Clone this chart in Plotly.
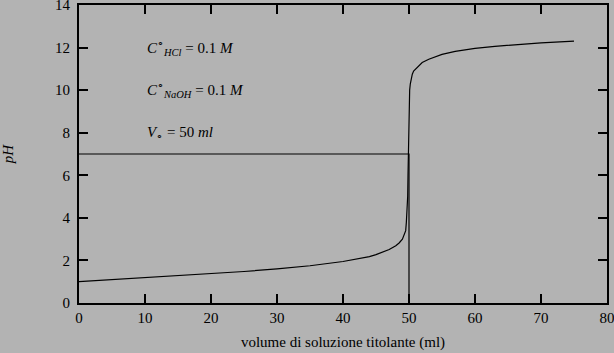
import plotly.graph_objects as go

# titration curve (volume of NaOH in ml, pH)
vol = [0, 5, 10, 15, 20, 25, 30, 35, 40, 42, 44, 45, 46, 47, 48, 48.5, 49, 49.3,
       49.5, 49.6, 49.7, 49.8, 49.85, 49.9, 49.95, 50.0, 50.05, 50.1, 50.2, 50.3,
       50.4, 50.5, 50.7, 51, 51.5, 52, 53, 54, 55, 57, 60, 63, 66, 70, 75]
ph = [1.00, 1.09, 1.18, 1.27, 1.37, 1.48, 1.60, 1.75, 1.95, 2.05, 2.18, 2.27,
      2.38, 2.51, 2.69, 2.82, 3.00, 3.20, 3.40, 3.80, 4.30, 5.00, 6.00, 7.00,
      8.00, 9.00, 9.60, 10.0, 10.3, 10.5, 10.65, 10.75, 10.90, 11.0, 11.15, 11.3,
      11.45, 11.58, 11.68, 11.82, 11.96, 12.06, 12.13, 12.22, 12.30]

# equivalence point guide lines
eq_x = [0, 50, 50]
eq_y = [7, 7, 0]

x_ticks = [0, 10, 20, 30, 40, 50, 60, 70, 80]
y_ticks = [0, 2, 4, 6, 8, 10, 12, 14]

labels = [
    "<i>C</i><sup>∘</sup><sub><i>HCl</i></sub> = 0.1 <i>M</i>",
    "<i>C</i><sup>∘</sup><sub><i>NaOH</i></sub> = 0.1 <i>M</i>",
    "<i>V</i><sub>∘</sub> = 50 <i>ml</i>",
]
label_y = [12, 10, 8]

FONT = "Liberation Serif"
BG = "#b3b3b3"

fig = go.Figure()
fig.add_trace(go.Scatter(x=vol, y=ph, mode="lines",
                         line=dict(color="black", width=1.2), showlegend=False))
fig.add_trace(go.Scatter(x=eq_x, y=eq_y, mode="lines",
                         line=dict(color="black", width=1.2), showlegend=False))

for t, yy in zip(labels, label_y):
    fig.add_annotation(x=10, y=yy, text=t, showarrow=False, xanchor="left",
                       yanchor="middle", font=dict(family=FONT, size=15, color="black"))

axis_common = dict(showline=True, linecolor="black", linewidth=2, mirror="ticks",
                   ticks="inside", ticklen=9, tickwidth=2, tickcolor="black",
                   showgrid=False, zeroline=False, ticklabeloverflow="allow",
                   automargin=False,
                   tickfont=dict(family=FONT, size=15, color="black"))

fig.update_xaxes(range=[0, 80], tickvals=x_ticks, **axis_common,
                 title=dict(text="volume di soluzione titolante (ml)",
                            font=dict(family=FONT, size=15, color="black"), standoff=11))
fig.update_yaxes(range=[0, 14], tickvals=y_ticks, **axis_common,
                 ticklabelstandoff=4,
                 title=dict(text="<i>pH</i>",
                            font=dict(family=FONT, size=15, color="black"), standoff=40))

fig.update_layout(width=614, height=353, paper_bgcolor=BG, plot_bgcolor=BG,
                  margin=dict(l=79, r=7, t=5, b=50), showlegend=False)

fig.write_html("out.html")
